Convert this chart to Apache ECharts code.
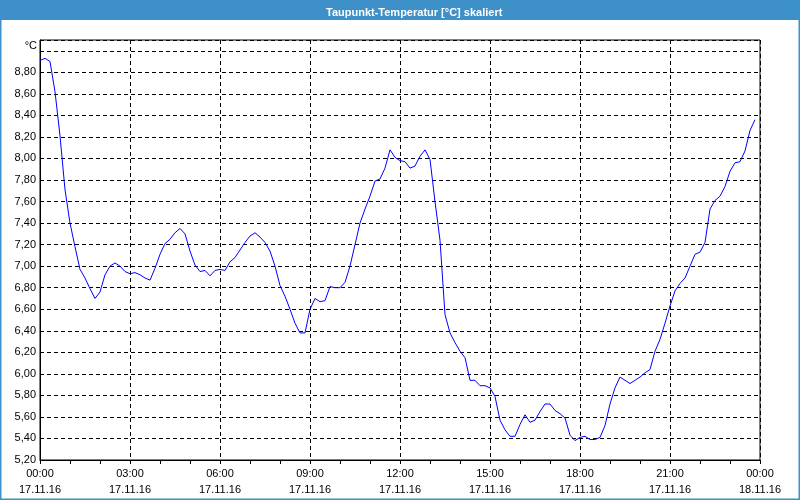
<!DOCTYPE html>
<html>
<head>
<meta charset="utf-8">
<script src="https://cdn.jsdelivr.net/npm/echarts@6/dist/echarts.min.js"></script>
<style>
html,body{margin:0;padding:0;background:#fff;}
#chart{width:800px;height:500px;}
</style>
</head>
<body>
<div id="chart"></div>
<script>
const chartTitle = "Taupunkt-Temperatur [°C] skaliert";
const unitLabel = "°C";
const startDay = "17.11.16";
const nextDay = "18.11.16";
const stepMinutes = 10; // one reading every 10 minutes, starting 00:00
const values = [
  8.91, 8.93, 8.90, 8.62, 8.21, 7.71, 7.40, 7.18, 6.97, 6.89, 6.79, 6.70,
  6.76, 6.92, 7.00, 7.03, 7.00, 6.95, 6.93, 6.94, 6.92, 6.89, 6.87, 6.98,
  7.11, 7.21, 7.25, 7.31, 7.35, 7.30, 7.14, 7.01, 6.95, 6.96, 6.91, 6.96,
  6.97, 6.96, 7.04, 7.08, 7.15, 7.22, 7.28, 7.31, 7.27, 7.22, 7.14, 7.00,
  6.82, 6.72, 6.60, 6.47, 6.38, 6.38, 6.60, 6.70, 6.67, 6.68, 6.81, 6.80,
  6.80, 6.85, 7.00, 7.20, 7.40, 7.53, 7.65, 7.79, 7.81, 7.91, 8.08, 8.01,
  7.98, 7.97, 7.91, 7.93, 8.02, 8.08, 7.99, 7.60, 7.24, 6.55, 6.38, 6.29,
  6.21, 6.15, 5.94, 5.94, 5.89, 5.89, 5.87, 5.79, 5.57, 5.48, 5.42, 5.42,
  5.53, 5.62, 5.55, 5.57, 5.65, 5.72, 5.72, 5.66, 5.63, 5.59, 5.43, 5.38,
  5.41, 5.42, 5.39, 5.39, 5.41, 5.52, 5.72, 5.87, 5.97, 5.94, 5.91, 5.94,
  5.97, 6.01, 6.04, 6.21, 6.32, 6.47, 6.63, 6.77, 6.84, 6.89, 7.00, 7.11,
  7.13, 7.22, 7.53, 7.61, 7.65, 7.74, 7.88, 7.96, 7.97, 8.07, 8.26, 8.36
];
const yMin = 5.2, yMax = 9.1, yStep = 0.2, yLastLabel = 8.8;
const xMinHours = 0, xMaxHours = 24, xStepHours = 3;

const seriesData = values.map((v, i) => [i * stepMinutes / 60, v]);

const chart = echarts.init(document.getElementById('chart'));
const dashed = { color: '#000', width: 1, type: [4, 3] };
const font = 'Liberation Sans, Arial, sans-serif';

chart.setOption({
  animation: false,
  backgroundColor: '#ffffff',
  title: {
    text: chartTitle,
    left: 321,
    top: 2,
    textStyle: { color: '#ffffff', fontSize: 11, fontWeight: 'bold', fontFamily: font }
  },
  graphic: [
    { type: 'rect', z: -10, shape: { x: 0, y: 0, width: 800, height: 20 }, style: { fill: '#3d91c8' } },
    { type: 'rect', z: -10, shape: { x: 0.5, y: 0.5, width: 799, height: 499 }, style: { fill: null, stroke: '#3d91c8', lineWidth: 2 } }
  ],
  grid: { left: 40, right: 40, top: 40, bottom: 40, show: true, borderColor: '#000', borderWidth: 1, backgroundColor: 'transparent' },
  xAxis: {
    type: 'value',
    min: xMinHours, max: xMaxHours, interval: xStepHours,
    axisLine: { show: true, lineStyle: { color: '#000', width: 1 } },
    axisTick: { show: true, length: 4, lineStyle: { color: '#000' } },
    minorTick: { show: true, splitNumber: 3, length: 4, lineStyle: { color: '#000' } },
    splitLine: { show: true, lineStyle: dashed },
    minorSplitLine: { show: false },
    axisLabel: {
      color: '#000', fontSize: 11, fontFamily: font, margin: 6, lineHeight: 16,
      formatter: function (h) {
        const hh = h % 24;
        const day = h >= 24 ? nextDay : startDay;
        return String(hh).padStart(2, '0') + ':00\n' + day;
      }
    }
  },
  yAxis: {
    type: 'value',
    min: yMin, max: yMax, interval: yStep,
    name: unitLabel,
    nameLocation: 'end',
    nameGap: -6,
    nameTextStyle: { color: '#000', fontSize: 11, fontFamily: font, align: 'right', verticalAlign: 'middle', padding: [0, 3, 0, 0] },
    axisLine: { show: true, lineStyle: { color: '#000', width: 1 } },
    axisTick: { show: false },
    splitLine: { show: true, lineStyle: dashed },
    axisLabel: {
      color: '#000', fontSize: 11, fontFamily: font, margin: 4,
      formatter: function (v) {
        if (v > yLastLabel + 0.01) return '';
        return v.toFixed(2).replace('.', ',');
      }
    }
  },
  series: [{
    type: 'line',
    data: seriesData,
    showSymbol: false,
    symbol: 'none',
    lineStyle: { color: '#0000ff', width: 1 },
    itemStyle: { color: '#0000ff' }
  }]
});
</script>
</body>
</html>
